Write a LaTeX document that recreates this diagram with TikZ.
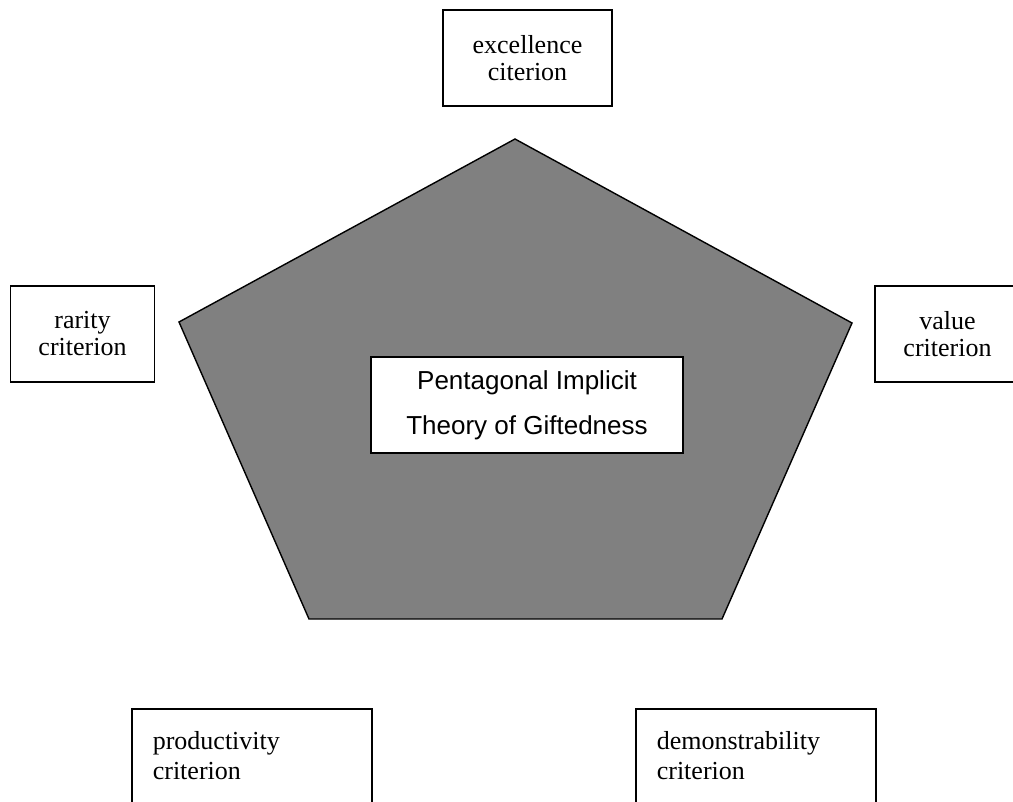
\documentclass[tikz,border=0pt]{standalone}
\usepackage{fontspec}
\setmainfont{Liberation Serif}
\setsansfont{Liberation Sans}
\begin{document}
\begin{tikzpicture}[x=1pt, y=-1pt]
        \tikzstyle{crit} = [draw, line width=1.6pt, fill=white, inner sep=0pt, align=center, font=\fontsize{26}{27}\selectfont]
        \tikzstyle{lowcrit} = [draw, line width=1.6pt, fill=white, anchor=north west, align=left, inner xsep=21pt, inner ysep=23pt, text width=198pt, font=\fontsize{26}{30}\selectfont]
        \useasboundingbox (0,0) rectangle (1013,802);
        % the pentagon
        \draw[fill=gray, line width=1.4pt] (515,139) -- (852,323) -- (722,619) -- (309,619) -- (179,322) -- cycle;
        \node[crit, font=\sffamily\fontsize{26}{45}\selectfont, minimum width=312pt, minimum height=96pt] (PIT) at (527,405) {Pentagonal Implicit\\Theory of Giftedness};
        % the five criteria
        \node[crit, minimum width=169pt, minimum height=96pt] (E) at (527.5,58) {excellence\\citerion};
        \node[crit, minimum width=144pt, minimum height=96pt] (R) at (82.5,334) {rarity\\criterion};
        \node[crit, minimum width=145pt, minimum height=96pt] (V) at (947.5,334) {value\\criterion};
        \node[lowcrit] (P) at (131,708) {productivity\\criterion};
        \node[lowcrit] (D) at (635,708) {demonstrability\\criterion};
      \end{tikzpicture}
\end{document}
